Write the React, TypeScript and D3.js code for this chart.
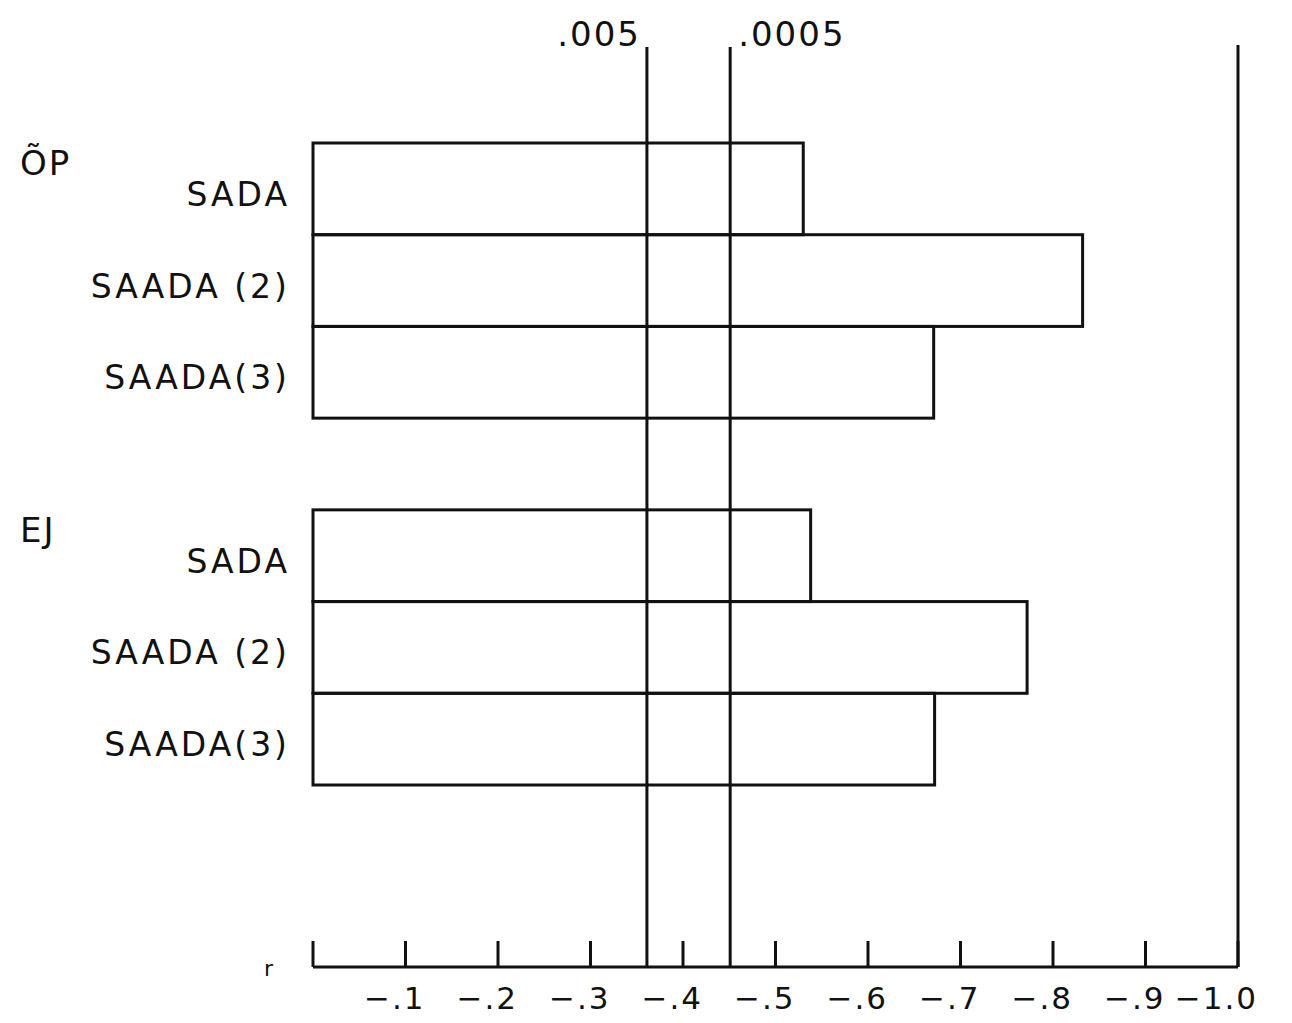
import React, { useEffect, useRef } from "react";
import * as d3 from "d3";

// correlation values (r)
const groups = ["ÕP", "EJ"];
const measures = ["SADA", "SAADA (2)", "SAADA(3)"];
const opValues = [-0.53, -0.832, -0.671];
const ejValues = [-0.538, -0.772, -0.672];
const ticks = [0, -0.1, -0.2, -0.3, -0.4, -0.5, -0.6, -0.7, -0.8, -0.9, -1.0];
const tickLabels = ["", "−.1", "−.2", "−.3", "−.4", "−.5", "−.6", "−.7", "−.8", "−.9", "−1.0"];
const sigLevels = [".005", ".0005"];
const sigValues = [-0.361, -0.451];

const W = 1292;
const H = 1023;
const FONT = "'DejaVu Sans', sans-serif";

const App = () => {
  const ref = useRef(null);

  useEffect(() => {
    const root = d3.select(ref.current);
    root.selectAll("*").remove();

    const svg = root
      .append("svg")
      .attr("width", W)
      .attr("height", H)
      .style("position", "absolute")
      .style("left", 0)
      .style("top", 0)
      .style("background", "#fff");

    const x = d3.scaleLinear().domain([0, -1]).range([313, 1238]);
    const axisY = 967;
    const lineTop = 47;

    // 7 slots: 3 rows for first group, blank, 3 rows for second
    const rows = [];
    measures.forEach((m, i) => rows.push({ key: "a" + i, label: m, value: opValues[i] }));
    const slots = ["a0", "a1", "a2", "gap", "b0", "b1", "b2"];
    measures.forEach((m, i) => rows.push({ key: "b" + i, label: m, value: ejValues[i] }));
    const y = d3.scaleBand().domain(slots).range([143, 785]).padding(0);

    const ink = "#111";

    // bars
    svg
      .append("g")
      .selectAll("rect")
      .data(rows)
      .enter()
      .append("rect")
      .attr("x", x(0))
      .attr("y", (d) => y(d.key))
      .attr("width", (d) => x(d.value) - x(0))
      .attr("height", y.bandwidth())
      .attr("fill", "none")
      .attr("stroke", ink)
      .attr("stroke-width", 3);

    // row labels
    svg
      .append("g")
      .selectAll("text")
      .data(rows)
      .enter()
      .append("text")
      .attr("x", 290)
      .attr("y", (d) => y(d.key) + y.bandwidth() / 2 + 17)
      .attr("text-anchor", "end")
      .attr("font-family", FONT)
      .attr("font-size", 33)
      .attr("letter-spacing", 3)
      .attr("fill", ink)
      .text((d) => d.label);

    // group labels
    svg
      .append("g")
      .selectAll("text")
      .data(groups)
      .enter()
      .append("text")
      .attr("x", 20)
      .attr("y", (d, i) => y(i === 0 ? "a0" : "b0") + 32)
      .attr("font-family", FONT)
      .attr("font-size", 34)
      .attr("letter-spacing", 2)
      .attr("fill", ink)
      .text((d) => d);

    // significance lines
    svg
      .append("g")
      .selectAll("line")
      .data(sigValues)
      .enter()
      .append("line")
      .attr("x1", (d) => x(d))
      .attr("x2", (d) => x(d))
      .attr("y1", lineTop)
      .attr("y2", axisY)
      .attr("stroke", ink)
      .attr("stroke-width", 3);

    svg
      .append("g")
      .selectAll("text")
      .data(sigLevels)
      .enter()
      .append("text")
      .attr("x", (d, i) => (i === 0 ? x(sigValues[i]) - 6 : x(sigValues[i]) + 8))
      .attr("y", 46)
      .attr("text-anchor", (d, i) => (i === 0 ? "end" : "start"))
      .attr("font-family", FONT)
      .attr("font-size", 34)
      .attr("letter-spacing", 2)
      .attr("fill", ink)
      .text((d) => d);

    // right boundary line at -1.0
    svg
      .append("line")
      .attr("x1", x(-1))
      .attr("x2", x(-1))
      .attr("y1", 45)
      .attr("y2", axisY)
      .attr("stroke", ink)
      .attr("stroke-width", 3);

    // x axis
    const axis = svg.append("g");
    axis
      .append("line")
      .attr("x1", x(0))
      .attr("x2", x(-1))
      .attr("y1", axisY)
      .attr("y2", axisY)
      .attr("stroke", ink)
      .attr("stroke-width", 3);

    axis
      .selectAll("line.tick")
      .data(ticks)
      .enter()
      .append("line")
      .attr("class", "tick")
      .attr("x1", (d) => x(d))
      .attr("x2", (d) => x(d))
      .attr("y1", axisY - 26)
      .attr("y2", axisY)
      .attr("stroke", ink)
      .attr("stroke-width", 3);

    axis
      .selectAll("text.lbl")
      .data(ticks)
      .enter()
      .append("text")
      .attr("class", "lbl")
      .attr("x", (d) => x(d) + 20)
      .attr("y", 1009)
      .attr("text-anchor", "end")
      .attr("font-family", FONT)
      .attr("font-size", 31)
      .attr("letter-spacing", 2)
      .attr("fill", ink)
      .text((d, i) => tickLabels[i]);

    axis
      .append("text")
      .attr("x", 264)
      .attr("y", 976)
      .attr("font-family", FONT)
      .attr("font-size", 22)
      .attr("fill", ink)
      .text("r");
  }, []);

  return <div ref={ref}></div>;
};

export default App;
